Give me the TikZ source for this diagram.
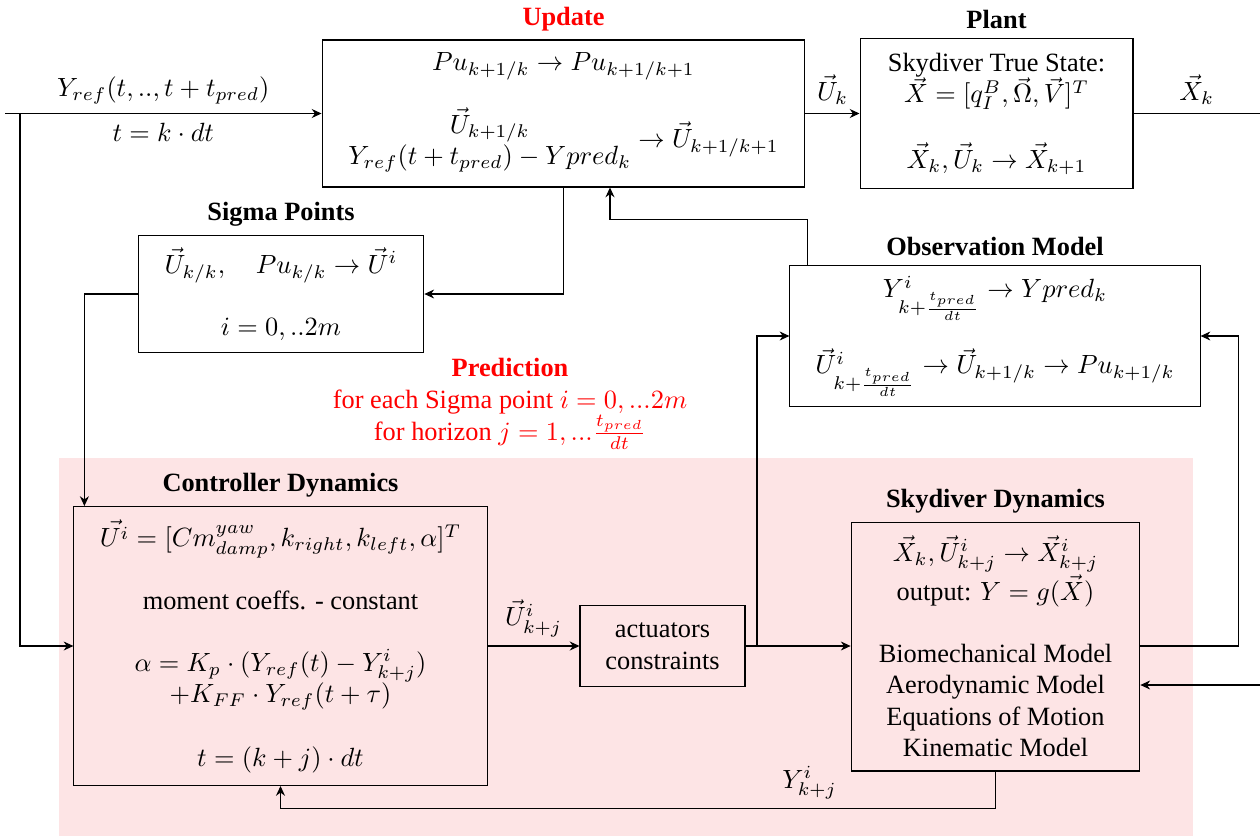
\documentclass[tikz,border=0pt]{standalone}
\usepackage{fontspec}
\setmainfont{Liberation Serif}
\usetikzlibrary{arrows.meta, positioning}
\definecolor{predpink}{HTML}{FDE4E5}

\begin{document}
\begin{tikzpicture}[
    x=0.013333cm, y=-0.013333cm,
    block/.style={draw, align=center, font=\normalsize},
    title/.style={font=\bfseries, inner sep=2pt},
    arr/.style={-{Stealth[length=1.3mm, width=1.2mm]}},
]
\useasboundingbox (0,0) rectangle (1260,840);

% prediction region
\fill[predpink] (59,458) rectangle (1193,836);

% update and plant
\node[block, minimum width=6.44cm, minimum height=1.96cm] (upd) at (563.5,113.5) {
    $Pu_{k+1/k}\rightarrow Pu_{k+1/k+1}$\\[0.33cm]
    $\begin{array}{@{}c@{}}\vec{U}_{k+1/k}\\ Y_{ref}(t+t_{pred})-Ypred_k\end{array}\rightarrow\vec{U}_{k+1/k+1}$
};
\node[title, text=red, above=1pt of upd] (updtitle) {Update};

\node[block, minimum width=3.64cm, minimum height=2.01cm] (plant) at (996.5,113.5) {
    Skydiver True State:\\
    $\vec{X}=[q_I^B,\vec{\Omega},\vec{V}]^T$\\[0.4cm]
    $\vec{X}_k,\vec{U}_k\rightarrow\vec{X}_{k+1}$
};
\node[title, above=1pt of plant] (planttitle) {Plant};

% sigma points and observation
\node[block, minimum width=3.81cm, minimum height=1.57cm] (sig) at (281,294) {
    $\vec{U}_{k/k},\quad Pu_{k/k}\rightarrow\vec{U}^i$\\[0.4cm]
    $i=0,..2m$
};
\node[title, above=1pt of sig] (sigtitle) {Sigma Points};

\node[block, minimum width=5.47cm, minimum height=1.89cm] (obs) at (995,336) {
    $Y^i_{k+\frac{t_{pred}}{dt}}\rightarrow Ypred_k$\\[0.34cm]
    $\vec{U}^i_{k+\frac{t_{pred}}{dt}}\rightarrow\vec{U}_{k+1/k}\rightarrow Pu_{k+1/k}$
};
\node[title, above=1pt of obs] (obstitle) {Observation Model};

\node[text=red, align=center] (pred) at (510,404) {
    \textbf{Prediction}\\
    for each Sigma point $i=0,...2m$\\
    for horizon $j=1,...\frac{t_{pred}}{dt}$
};

% prediction loop
\node[block, minimum width=5.51cm, minimum height=3.72cm] (ctrl) at (280.5,646) {
    $\vec{U^i}=[Cm^{yaw}_{damp},k_{right},k_{left},\alpha]^T$\\[0.42cm]
    moment coeffs. - constant\\[0.4cm]
    $\alpha=K_p\cdot(Y_{ref}(t)-Y^i_{k+j})$\\
    $+K_{FF}\cdot Y_{ref}(t+\tau)$\\[0.42cm]
    $t=(k+j)\cdot dt$
};
\node[title, above=1pt of ctrl] (ctrltitle) {Controller Dynamics};

\node[block, minimum width=2.2cm, minimum height=1.09cm] (act) at (662.5,646) {
    actuators\\constraints
};

\node[block, minimum width=3.85cm, minimum height=3.32cm] (sky) at (995.5,646.5) {
    $\vec{X}_k,\vec{U}^i_{k+j}\rightarrow\vec{X}^i_{k+j}$\\
    output: $Y=g(\vec{X})$\\[0.4cm]
    Biomechanical Model\\
    Aerodynamic Model\\
    Equations of Motion\\
    Kinematic Model
};
\node[title, above=1pt of sky] (skytitle) {Skydiver Dynamics};

% connectors
\coordinate (in) at (5,113.5);
\coordinate (br) at (20,113.5);
\coordinate (out) at (1260,113.5);
\coordinate (tap) at (757,646);
\coordinate (ext) at (1260,685);

\draw[arr] (in) -- node[above] {$Y_{ref}(t,..,t+t_{pred})$} node[below] {$t=k\cdot dt$} (upd.west);
\draw[arr] (br) |- (ctrl.west);
\draw[arr] (upd.east) -- node[above] {$\vec{U}_k$} (plant.west);
\draw (plant.east) -- node[above] {$\vec{X}_k$} (out);
\draw[arr] (upd.south) |- (sig.east);
\draw[arr] (sig.west) -| ([xshift=0.147cm]ctrl.north west);
\draw[arr] ([xshift=0.24cm]obs.north west) -- ++(0,-45) -| ([xshift=0.62cm]upd.south);
\draw[arr] (ctrl.east) -- node[above] {$\vec{U}^i_{k+j}$} (act.west);
\draw[arr] (act.east) -- (sky.west |- act.east);
\draw[arr] (tap) |- (obs.west);
\draw[arr] (sky.east |- act.east) -- ++(98,0) |- (obs.east);
\draw[arr] (ext) -- (sky.east |- ext);
\draw[arr] (sky.south) -- ++(0,37) -| node[pos=0.13, above] {$Y^i_{k+j}$} (ctrl.south);

\end{tikzpicture}
\end{document}
